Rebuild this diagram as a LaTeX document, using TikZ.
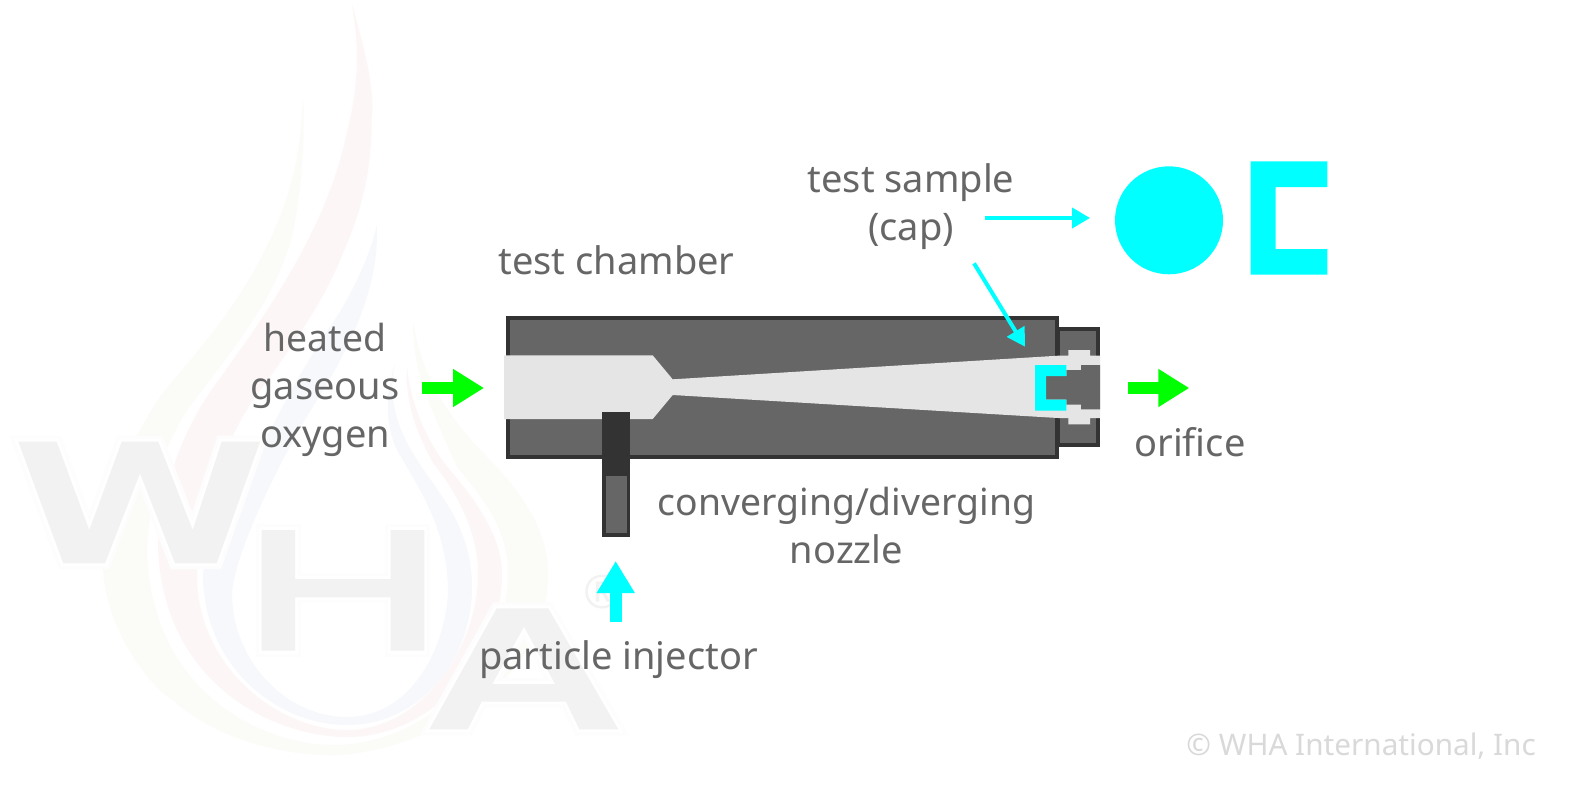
\documentclass[tikz,border=0pt]{standalone}
\usepackage{fontspec}
\setmainfont{Noto Sans}
\usetikzlibrary{arrows.meta}
\definecolor{labelgray}{HTML}{666666}
\definecolor{bodygray}{HTML}{666666}
\definecolor{edgegray}{HTML}{333333}
\definecolor{nozzlegray}{HTML}{E5E5E5}
\definecolor{wmgray}{HTML}{F2F2F2}
\definecolor{wmhalo}{HTML}{FDFDFD}
\definecolor{wmgreen}{HTML}{FBFCF8}
\definecolor{wmred}{HTML}{FDF6F6}
\definecolor{wmblue}{HTML}{F6F8FC}
\definecolor{creditgray}{HTML}{D9D9D9}
\definecolor{cyan}{HTML}{00FFFF}
\definecolor{green}{HTML}{00FF00}
\tikzset{
  lbl/.style={text=labelgray,font=\fontsize{38}{38}\selectfont,anchor=base,inner sep=0pt,outer sep=0pt},
  lbltight/.style={lbl,font=\fontsize{37.3}{38}\selectfont},
  credit/.style={text=creditgray,font=\fontsize{29.7}{30}\selectfont,anchor=base east,inner sep=0pt},
  bigarrowgreen/.style={draw=green,line width=12pt,-{Triangle[length=31pt,width=36pt]}},
  bigarrowcyan/.style={draw=cyan,line width=12pt,-{Triangle[length=32pt,width=36pt]}},
  thinarrowcyan/.style={draw=cyan,line width=4pt,-{Triangle[length=18pt,width=20pt]}},
  body/.style={fill=bodygray,draw=edgegray,line width=4pt},
}
\newcommand{\wmW}{(18.3,441.7) -- (56.7,441.7) -- (89.3,530) -- (121.7,441.7) -- (158.3,441.7) -- (192.7,530) -- (221.7,441.7) -- (260,441.7) -- (216.7,563.3) -- (175,563.3) -- (140,473.3) -- (105,563.3) -- (63.3,563.3) -- cycle}
\newcommand{\wmH}{(261.7,530) -- (295,530) -- (295,579) -- (390.7,579) -- (390.7,530) -- (424.3,530) -- (424.3,650.7) -- (390.7,650.7) -- (390.7,597.3) -- (295,597.3) -- (295,650.7) -- (261.7,650.7) -- cycle}
\newcommand{\wmA}{(429.3,729.3) -- (467.7,729.3) -- (481.7,701.7) -- (566,701.7) -- (579.3,729.3) -- (618.3,729.3) -- (548.3,608.3) -- (496.7,608.3) -- cycle (524,626.7) -- (555,684) -- (492.3,684) -- cycle}
\begin{document}
\begin{tikzpicture}[x=1pt,y=-1pt]
\path[use as bounding box,fill=white] (0,0) rectangle (1584,788);
% watermark flames
\fill[wmgreen] (303,98) .. controls (300,150) and (296,200) .. (247,283)
  .. controls (215,335) and (185,365) .. (160,397)
  .. controls (125,450) and (100,510) .. (103,570)
  .. controls (108,640) and (160,695) .. (173,700)
  .. controls (205,730) and (265,755) .. (333,755)
  .. controls (400,755) and (548,700) .. (548,573)
  .. controls (548,530) and (520,490) .. (487,457)
  .. controls (450,420) and (420,375) .. (413,320)
  .. controls (413,370) and (425,395) .. (457,467)
  .. controls (485,500) and (508,530) .. (508,573)
  .. controls (508,660) and (430,745) .. (333,745)
  .. controls (260,745) and (150,690) .. (147,550)
  .. controls (150,480) and (170,430) .. (197,397)
  .. controls (240,340) and (290,280) .. (297,207)
  .. controls (303,170) and (305,130) .. (303,98) -- cycle;
\fill[wmred] (351.7,3) .. controls (365,50) and (375,90) .. (371.7,117)
  .. controls (372,170) and (362,210) .. (343,253)
  .. controls (325,300) and (290,350) .. (253,400)
  .. controls (220,450) and (197,520) .. (197,580)
  .. controls (200,670) and (280,730) .. (347,730)
  .. controls (420,730) and (478,650) .. (478,573)
  .. controls (478,530) and (455,490) .. (433,463)
  .. controls (415,430) and (405,400) .. (407,367)
  .. controls (410,400) and (425,440) .. (450,470)
  .. controls (480,505) and (502,540) .. (502,573)
  .. controls (502,660) and (430,737) .. (347,737)
  .. controls (270,737) and (160,680) .. (158,543)
  .. controls (165,480) and (180,440) .. (206.7,397)
  .. controls (250,335) and (325,240) .. (346.7,133)
  .. controls (358,90) and (360,50) .. (351.7,3) -- cycle;
\fill[wmblue] (376.7,225) .. controls (372,250) and (355,290) .. (330,327)
  .. controls (290,385) and (245,480) .. (220,533)
  .. controls (205,560) and (203,570) .. (203,577)
  .. controls (205,670) and (280,725) .. (347,725)
  .. controls (420,725) and (472,660) .. (472,587)
  .. controls (472,530) and (440,495) .. (433,483)
  .. controls (405,445) and (385,410) .. (395,363)
  .. controls (385,395) and (385,425) .. (397,450)
  .. controls (420,490) and (448,530) .. (448,593)
  .. controls (445,650) and (410,717) .. (347,717)
  .. controls (285,717) and (232,660) .. (232,593)
  .. controls (235,550) and (285,450) .. (317,400)
  .. controls (355,340) and (380,280) .. (376.7,225) -- cycle;
% watermark letters
\foreach \wmhalow/\wmhaloc in {12/wmhalo,6/white}{
  \draw[\wmhaloc,line width=\wmhalow pt,line join=miter] \wmW;
  \draw[\wmhaloc,line width=\wmhalow pt,line join=miter] \wmH;
  \draw[\wmhaloc,line width=\wmhalow pt,line join=miter] \wmA;
}
\fill[wmgray] \wmW;
\fill[wmgray] \wmH;
\fill[wmgray,even odd rule] \wmA;
\node[text=wmgray,font=\fontsize{46}{46}\selectfont,inner sep=0pt] (regmark) at (603,592) {®};
% chamber
\path[body] (507.7,317.7) rectangle (1056.7,456.7);
\path[body] (1058,329) rectangle (1098,444.7);
% nozzle
\fill[nozzlegray] (504,355.3) -- (652.7,355.3) -- (672.7,379.3) -- (1058,355.7) -- (1068.3,355.7) -- (1068.3,350) -- (1090,350) -- (1090,355.7) -- (1100,355.7)
  -- (1100,418) -- (1090,418) -- (1090,424.3) -- (1068.3,424.3) -- (1068.3,418) -- (1058,418) -- (672.7,395) -- (652.7,419) -- (504,419) -- cycle;
% end piece interior
\fill[bodygray] (1046,376) -- (1066.3,376) -- (1066.3,370) -- (1081,370) -- (1081,365) -- (1100,365) -- (1100,409.3) -- (1081,409.3) -- (1081,404.7) -- (1066.3,404.7) -- (1066.3,399.7) -- (1046,399.7) -- cycle;
% sample in place
\fill[cyan] (1035,365) -- (1066.3,365) -- (1066.3,376) -- (1046,376) -- (1046,399.7) -- (1066.3,399.7) -- (1066.3,410.7) -- (1035,410.7) -- cycle;
% injector
\fill[edgegray] (601.7,412.3) rectangle (630.3,536.7);
\fill[bodygray] (605.7,476) rectangle (626.7,532.7);
% sample views
\node[circle,fill=cyan,minimum size=108pt,inner sep=0pt,outer sep=0pt] (disc) at (1169,220.3) {};
\fill[cyan] (1250.7,161.3) -- (1327.3,161.3) -- (1327.3,187) -- (1275.7,187) -- (1275.7,249) -- (1327.3,249) -- (1327.3,274.7) -- (1250.7,274.7) -- cycle;
% arrow ends
\coordinate (gasA) at (421.6,388);
\coordinate (gasB) at (484,388);
\coordinate (outA) at (1128.3,388);
\coordinate (outB) at (1189.3,388);
\coordinate (injA) at (615.7,622.3);
\coordinate (injB) at (615.7,561);
\coordinate (sampA) at (985.3,218);
\coordinate (sampB) at (1090,218);
\coordinate (capA) at (974,263.3);
\coordinate (capB) at (1025,346.7);
\draw[bigarrowgreen] (gasA) -- (gasB);
\draw[bigarrowgreen] (outA) -- (outB);
\draw[bigarrowcyan] (injA) -- (injB);
\draw[thinarrowcyan] (sampA) -- (sampB);
\draw[thinarrowcyan] (capA) -- (capB);
% labels
\node[lbl] (chamber) at (616.5,274) {test chamber};
\node[lbltight] (heated) at (325,351) {heated};
\node[lbl] (gaseous) at (325,399) {gaseous};
\node[lbl] (oxygen) at (325,447) {oxygen};
\node[lbl] (sample) at (911,192) {test sample};
\node[lbl] (cap) at (911,240) {(cap)};
\node[lbl] (orifice) at (1190,456) {orifice};
\node[lbltight] (conv) at (846.5,515) {converging/diverging};
\node[lbl] (nozzle) at (846.5,563) {nozzle};
\node[lbl] (particle) at (618.5,669) {particle injector};
\node[credit] (copy) at (1536,755) {© WHA International, Inc};
\end{tikzpicture}
\end{document}
